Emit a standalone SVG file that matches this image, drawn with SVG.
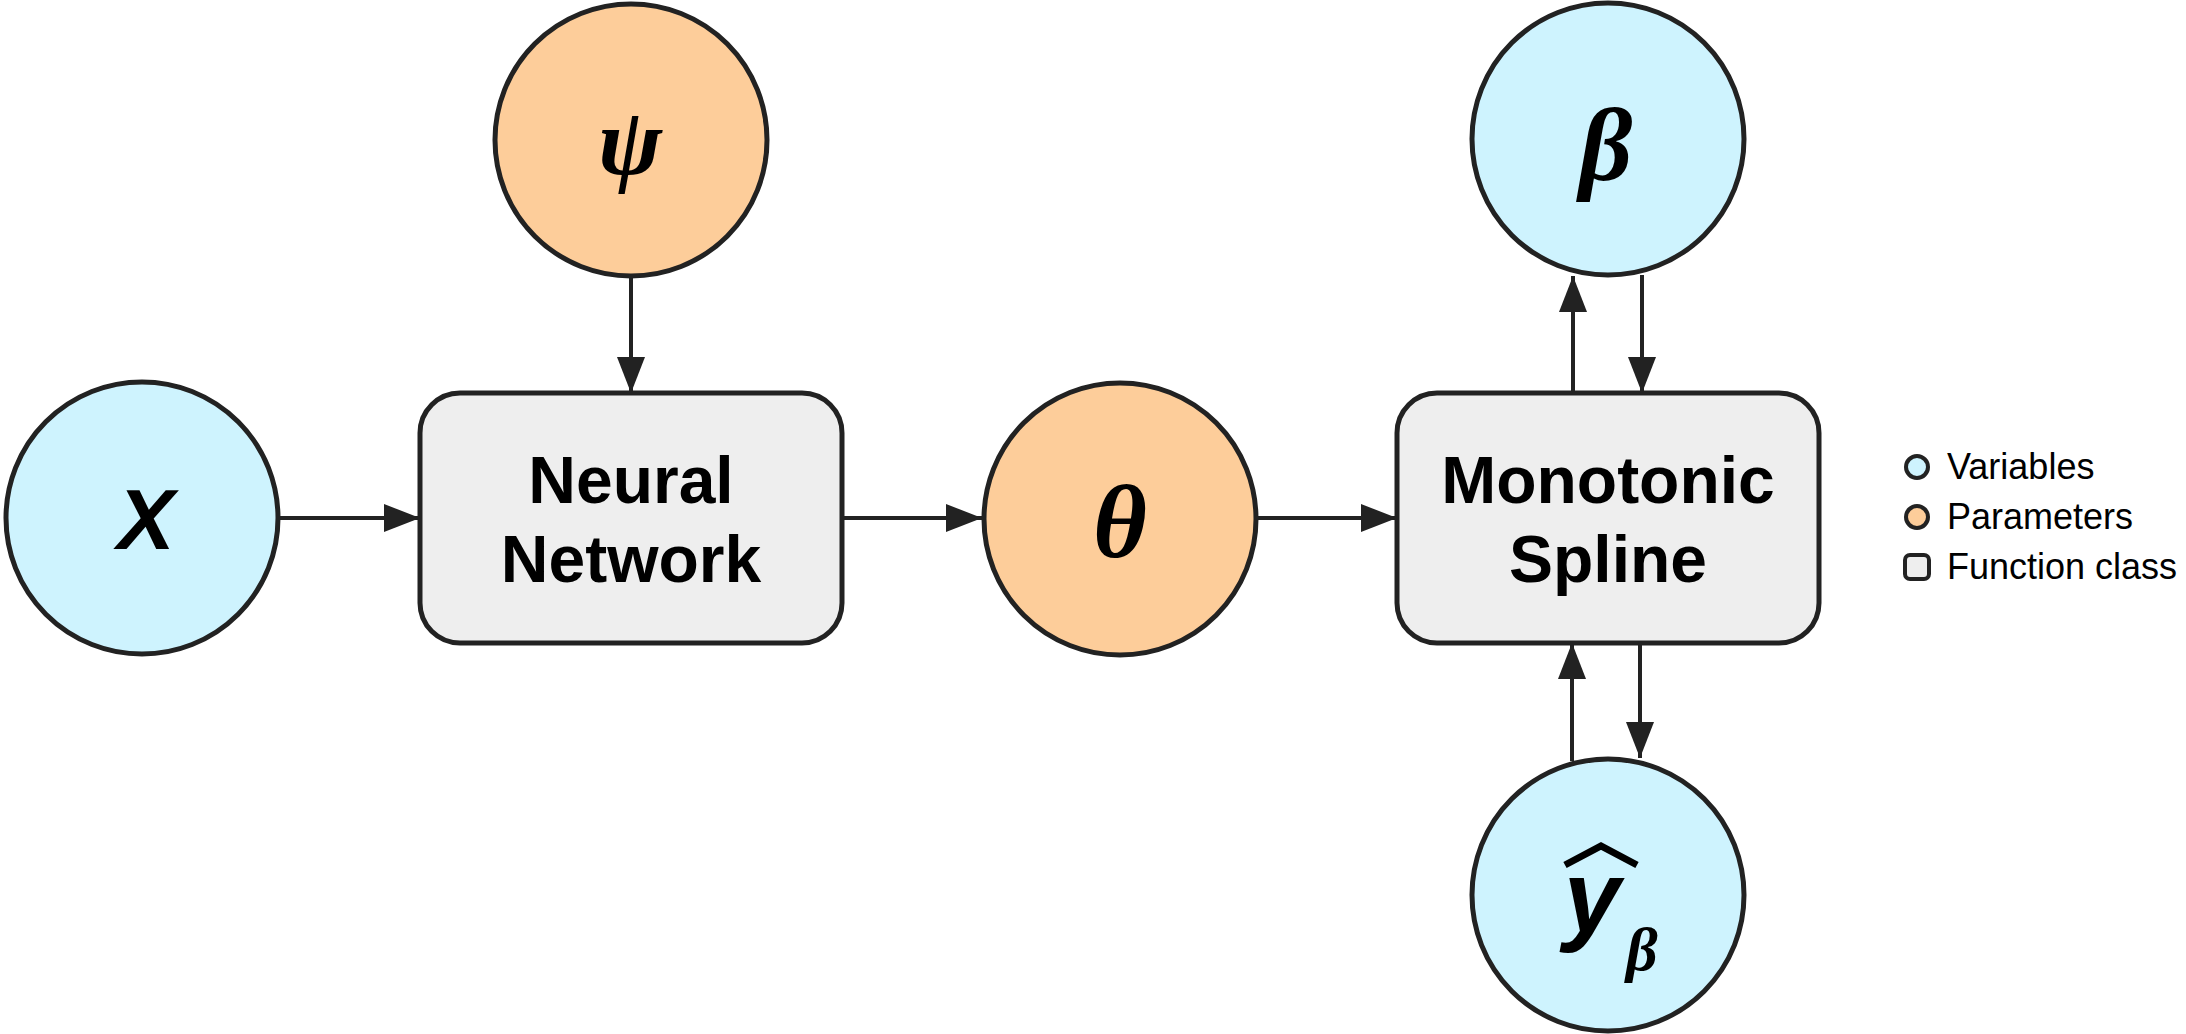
<svg xmlns="http://www.w3.org/2000/svg" width="2186" height="1034" viewBox="0 0 2186 1034">
<style>
.var{fill:#cef3fe;stroke:#222;stroke-width:5}
.par{fill:#fdcd9a;stroke:#222;stroke-width:5}
.fn{fill:#eeeeee;stroke:#222;stroke-width:5}
.lbl{font-family:"Liberation Sans",Arial,sans-serif;font-weight:bold;font-size:66px;text-anchor:middle;fill:#000}
.gr{font-family:"Liberation Serif","Times New Roman",serif;font-weight:bold;font-style:italic;text-anchor:middle;fill:#000}
.la{font-family:"Liberation Sans",Arial,sans-serif;font-weight:bold;font-style:italic;text-anchor:middle;fill:#000}
.leg{font-family:"Liberation Sans",Arial,sans-serif;font-size:36px;fill:#000}
.edge{stroke:#222;stroke-width:4;fill:none;marker-end:url(#ah)}
</style>
<defs>
<marker id="ah" markerUnits="userSpaceOnUse" markerWidth="36" markerHeight="28" refX="36" refY="14" orient="auto">
<path d="M0,0 L36,14 L0,28 Z" fill="#222"/>
</marker>
</defs>
<rect width="2186" height="1034" fill="#fff"/>
<g id="connectors">
<line class="edge" x1="280" y1="518" x2="420" y2="518"/>
<line class="edge" x1="631" y1="278" x2="631" y2="393"/>
<line class="edge" x1="842" y1="518" x2="982" y2="518"/>
<line class="edge" x1="1258" y1="518" x2="1397" y2="518"/>
<line class="edge" x1="1573" y1="393" x2="1573" y2="276"/>
<line class="edge" x1="1642" y1="275" x2="1642" y2="393"/>
<line class="edge" x1="1640" y1="643" x2="1640" y2="758"/>
<line class="edge" x1="1572" y1="761" x2="1572" y2="643"/>
</g>
<g id="node-x">
<circle class="var" cx="142" cy="518" r="136"/>
<text class="la" x="146" y="549" font-size="86">X</text>
</g>
<g id="node-psi">
<circle class="par" cx="631" cy="140" r="136"/>
<text class="gr" x="630" y="174" font-size="96">ψ</text>
</g>
<g id="node-nn">
<rect class="fn" x="420" y="393" width="422" height="250" rx="40"/>
<text class="lbl" x="631" y="503">Neural</text>
<text class="lbl" x="631" y="582">Network</text>
</g>
<g id="node-theta">
<circle class="par" cx="1120" cy="519" r="136"/>
<text class="gr" x="1120" y="557" font-size="104">θ</text>
</g>
<g id="node-ms">
<rect class="fn" x="1397" y="393" width="422" height="250" rx="40"/>
<text class="lbl" x="1608" y="503">Monotonic</text>
<text class="lbl" x="1608" y="582">Spline</text>
</g>
<g id="node-beta">
<circle class="var" cx="1608" cy="139" r="136"/>
<text class="gr" x="1606" y="180" font-size="104">β</text>
</g>
<g id="node-yhat">
<circle class="var" cx="1608" cy="895" r="136"/>
<polyline points="1565,865 1601,846 1637,865" fill="none" stroke="#000" stroke-width="7"/>
<text class="la" x="1592" y="932" font-size="102">y</text>
<text class="gr" x="1642" y="970" font-size="62">β</text>
</g>
<g id="legend">
<circle class="var" cx="1917" cy="467" r="11" style="stroke-width:4"/>
<text class="leg" x="1947" y="479">Variables</text>
<circle class="par" cx="1917" cy="517" r="11" style="stroke-width:4"/>
<text class="leg" x="1947" y="529">Parameters</text>
<rect class="fn" x="1905" y="555" width="24" height="24" rx="5" style="stroke-width:4"/>
<text class="leg" x="1947" y="579">Function class</text>
</g>
</svg>
